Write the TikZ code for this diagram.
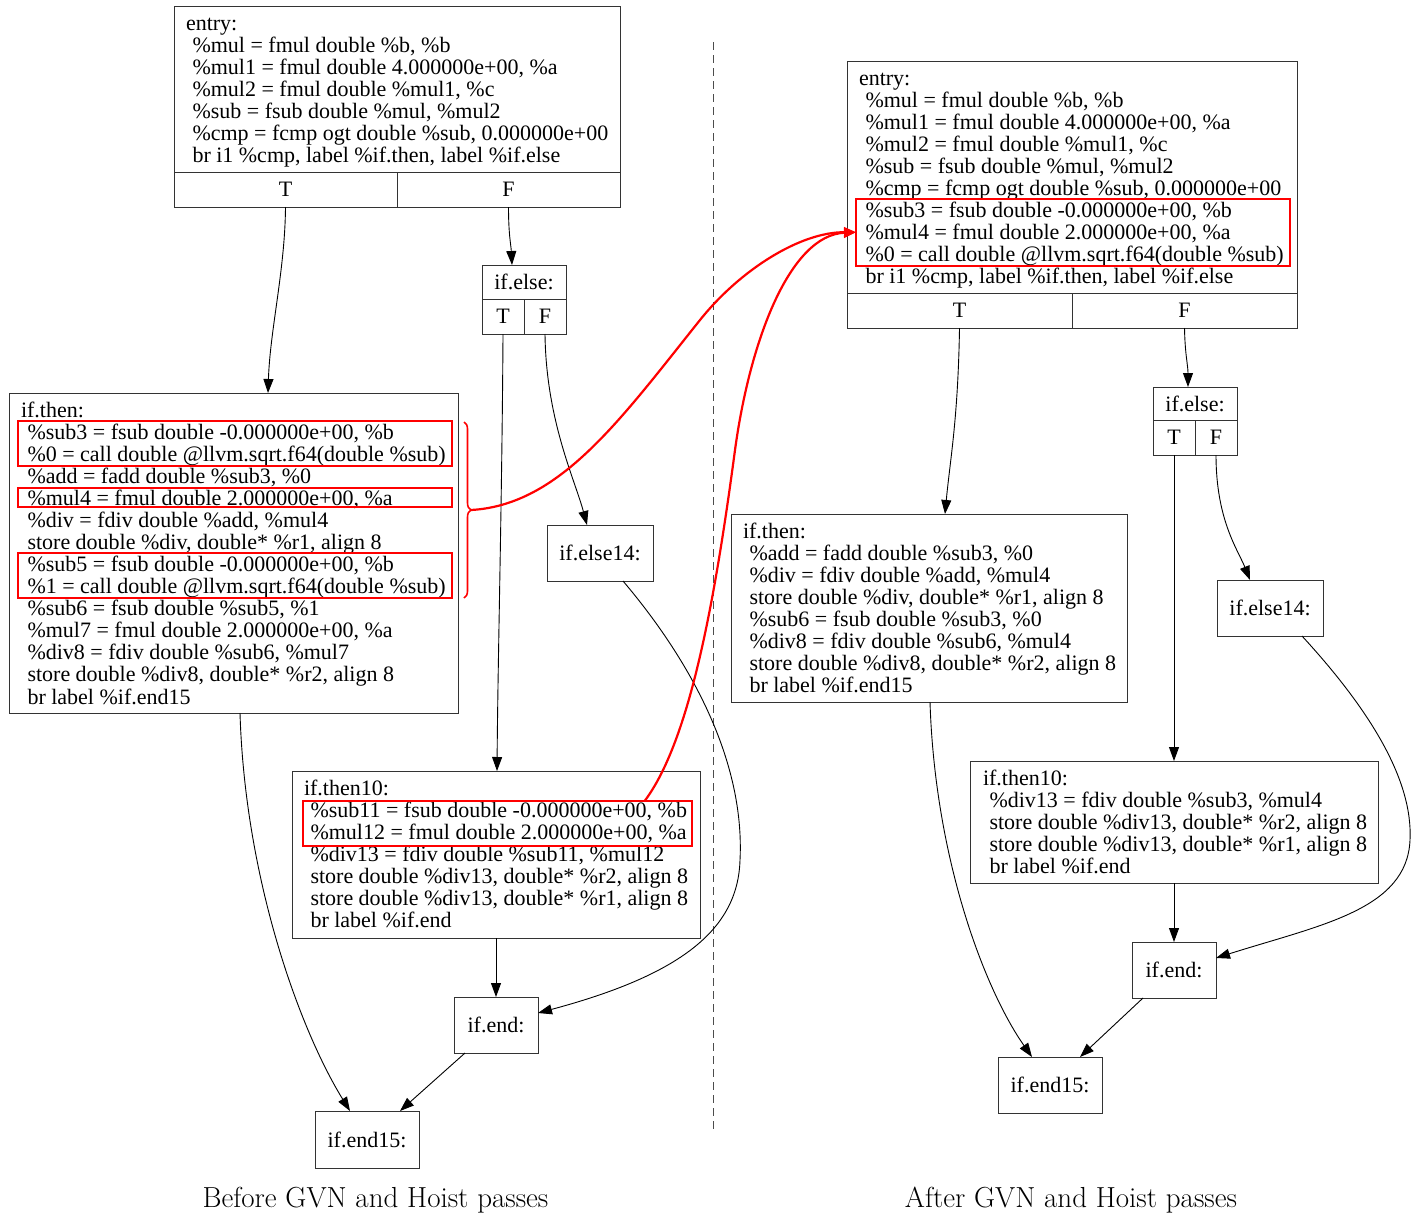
\documentclass[tikz,border=0pt]{standalone}
\usepackage{fontspec}
\newfontfamily\tnr{Liberation Serif}
\usetikzlibrary{arrows.meta,decorations.pathreplacing}
\newcommand\blk[1]{\begin{tabular}[t]{@{}l@{}}#1\end{tabular}}
\newcommand\ii{\hspace*{6.5pt}}
\tikzset{
 box/.style={draw=black!80, line width=1pt, rectangle, inner sep=0pt, outer sep=0pt, font=\tnr\fontsize{22}{22}\selectfont},
 code/.style={anchor=base west, inner sep=0pt, outer sep=0pt, font=\tnr\fontsize{22}{22}\selectfont},
 redbox/.style={draw=red, line width=2pt, rectangle, inner sep=0pt, outer sep=0pt},
 edge/.style={draw=black, line width=0.9pt, -{Triangle[length=14pt,width=10pt]}},
 rededge/.style={draw=red, line width=2.2pt, -{Triangle[length=12pt,width=10pt]}},
 bracestyle/.style={draw=red, line width=1.6pt, decorate, decoration={brace, amplitude=7pt}},
 divider/.style={draw=black!70, line width=1pt, dash pattern=on 8pt off 5pt},
 caption/.style={font=\fontsize{29}{32}\selectfont, anchor=base, inner sep=0pt},
}
\begin{document}
\begin{tikzpicture}[x=1pt,y=-1pt]
\useasboundingbox (0,0) rectangle (1416,1213);
\fill[white] (0,0) rectangle (1416,1213);

% ---------------- LEFT ----------------
\node[box, minimum width=446pt, minimum height=201pt] (entL) at (397,106.5) {};
\node[box, minimum width=223pt, minimum height=35pt] (entLT) at (285.5,189.5) {T};
\node[box, minimum width=223pt, minimum height=35pt] (entLF) at (508.5,189.5) {F};
\node[code] (entLtxt) at (186,30) {\blk{entry:\\
\ii\%mul = fmul double \%b, \%b\\
\ii\%mul1 = fmul double 4.000000e+00, \%a\\
\ii\%mul2 = fmul double \%mul1, \%c\\
\ii\%sub = fsub double \%mul, \%mul2\\
\ii\%cmp = fcmp ogt double \%sub, 0.000000e+00\\
\ii br i1 \%cmp, label \%if.then, label \%if.else}};

\node[box, minimum width=84pt, minimum height=69pt] (elseL) at (524,299.5) {};
\node[box, minimum width=84pt, minimum height=34pt] (elseLH) at (524,282) {if.else:};
\node[box, minimum width=42pt, minimum height=35pt] (elseLT) at (503,316.5) {T};
\node[box, minimum width=42pt, minimum height=35pt] (elseLF) at (545,316.5) {F};

\node[box, minimum width=449pt, minimum height=320pt] (thenL) at (233.5,553) {};
\node[code] (thenLtxt) at (21,417) {\blk{if.then:\\
\ii\%sub3 = fsub double -0.000000e+00, \%b\\
\ii\%0 = call double @llvm.sqrt.f64(double \%sub)\\
\ii\%add = fadd double \%sub3, \%0\\
\ii\%mul4 = fmul double 2.000000e+00, \%a\\
\ii\%div = fdiv double \%add, \%mul4\\
\ii store double \%div, double* \%r1, align 8\\
\ii\%sub5 = fsub double -0.000000e+00, \%b\\
\ii\%1 = call double @llvm.sqrt.f64(double \%sub)\\
\ii\%sub6 = fsub double \%sub5, \%1\\
\ii\%mul7 = fmul double 2.000000e+00, \%a\\
\ii\%div8 = fdiv double \%sub6, \%mul7\\
\ii store double \%div8, double* \%r2, align 8\\
\ii br label \%if.end15}};

\node[box, minimum width=106pt, minimum height=56pt] (else14L) at (600,553) {if.else14:};

\node[box, minimum width=408pt, minimum height=167pt] (then10L) at (496,854.5) {};
\node[code] (then10Ltxt) at (304,795) {\blk{if.then10:\\
\ii\%sub11 = fsub double -0.000000e+00, \%b\\
\ii\%mul12 = fmul double 2.000000e+00, \%a\\
\ii\%div13 = fdiv double \%sub11, \%mul12\\
\ii store double \%div13, double* \%r2, align 8\\
\ii store double \%div13, double* \%r1, align 8\\
\ii br label \%if.end}};

\node[box, minimum width=84pt, minimum height=56pt] (endL) at (496,1025) {if.end:};
\node[box, minimum width=104pt, minimum height=57pt] (end15L) at (367,1139.5) {if.end15:};

% red highlights left
\node[redbox, minimum width=434pt, minimum height=45pt] (rL1) at (234.5,443.5) {};
\node[redbox, minimum width=434pt, minimum height=19pt] (rL2) at (234.5,497.5) {};
\node[redbox, minimum width=434pt, minimum height=45pt] (rL3) at (234.5,575.5) {};
\node[redbox, minimum width=389pt, minimum height=45.5pt] (rT10) at (497.5,823.25) {};

% ---------------- RIGHT ----------------
\node[box, minimum width=450pt, minimum height=267pt] (entR) at (1072,194.5) {};
\node[box, minimum width=225pt, minimum height=35pt] (entRT) at (959.5,310.5) {T};
\node[box, minimum width=225pt, minimum height=35pt] (entRF) at (1184.5,310.5) {F};
\node[code] (entRtxt) at (859,85) {\blk{entry:\\
\ii\%mul = fmul double \%b, \%b\\
\ii\%mul1 = fmul double 4.000000e+00, \%a\\
\ii\%mul2 = fmul double \%mul1, \%c\\
\ii\%sub = fsub double \%mul, \%mul2\\
\ii\%cmp = fcmp ogt double \%sub, 0.000000e+00\\
\ii\%sub3 = fsub double -0.000000e+00, \%b\\
\ii\%mul4 = fmul double 2.000000e+00, \%a\\
\ii\%0 = call double @llvm.sqrt.f64(double \%sub)\\
\ii br i1 \%cmp, label \%if.then, label \%if.else}};
\node[redbox, minimum width=434pt, minimum height=67.5pt] (rR) at (1073,232.25) {};

\node[box, minimum width=84pt, minimum height=68pt] (elseR) at (1195,421) {};
\node[box, minimum width=84pt, minimum height=33pt] (elseRH) at (1195,403.5) {if.else:};
\node[box, minimum width=42pt, minimum height=35pt] (elseRT) at (1174,437.5) {T};
\node[box, minimum width=42pt, minimum height=35pt] (elseRF) at (1216,437.5) {F};

\node[box, minimum width=396pt, minimum height=188pt] (thenR) at (929,608) {};
\node[code] (thenRtxt) at (743,538) {\blk{if.then:\\
\ii\%add = fadd double \%sub3, \%0\\
\ii\%div = fdiv double \%add, \%mul4\\
\ii store double \%div, double* \%r1, align 8\\
\ii\%sub6 = fsub double \%sub3, \%0\\
\ii\%div8 = fdiv double \%sub6, \%mul4\\
\ii store double \%div8, double* \%r2, align 8\\
\ii br label \%if.end15}};

\node[box, minimum width=106pt, minimum height=56pt] (else14R) at (1270,608) {if.else14:};

\node[box, minimum width=408pt, minimum height=122pt] (then10R) at (1174,822) {};
\node[code] (then10Rtxt) at (983,785) {\blk{if.then10:\\
\ii\%div13 = fdiv double \%sub3, \%mul4\\
\ii store double \%div13, double* \%r2, align 8\\
\ii store double \%div13, double* \%r1, align 8\\
\ii br label \%if.end}};

\node[box, minimum width=84pt, minimum height=56pt] (endR) at (1174,970) {if.end:};
\node[box, minimum width=104pt, minimum height=56pt] (end15R) at (1050,1085) {if.end15:};

% ---------------- divider & captions ----------------
\coordinate (dtop) at (713,42);
\coordinate (dbot) at (713,1132);
\draw[divider] (dtop) -- (dbot);
\node[caption] (capL) at (375.5,1207) {Before GVN and Hoist passes};
\node[caption] (capR) at (1071,1207) {After GVN and Hoist passes};

% ---------------- edges left ----------------
\draw[edge] (entLT.south) .. controls (285,270) and (270,330) .. ([xshift=34.5pt]thenL.north);
\draw[edge] (entLF.south) .. controls (508.5,235) and (511,245) .. ([xshift=-12pt]elseL.north);
\draw[edge] (elseLT.south) .. controls (502,500) and (498,650) .. ([xshift=1pt]then10L.north);
\draw[edge] (elseLF.south) .. controls (546,420) and (575,480) .. ([xshift=-13pt]else14L.north);
\draw[edge] ([xshift=23pt]else14L.south) .. controls (690,660) and (745,760) .. (740,860)
   .. controls (738,930) and (680,975) .. ([yshift=12pt]endL.east);
\draw[edge] ([xshift=6.5pt]thenL.south) .. controls (245,880) and (300,1030) .. ([xshift=-17pt]end15L.north);
\draw[edge] (then10L.south) -- (endL.north);
\draw[edge] ([xshift=-31pt]endL.south) -- ([xshift=33pt]end15L.north);

% ---------------- edges right ----------------
\draw[edge] (entRT.south) .. controls (958,420) and (950,460) .. ([xshift=16pt]thenR.north);
\draw[edge] (entRF.south) .. controls (1185,355) and (1188,365) .. ([xshift=-7pt]elseR.north);
\draw[edge] (elseRT.south) -- (then10R.north);
\draw[edge] (elseRF.south) .. controls (1216,520) and (1238,550) .. ([xshift=-20pt]else14R.north);
\draw[edge] ([xshift=32pt]else14R.south) .. controls (1370,710) and (1413,780) .. (1410,840)
   .. controls (1407,910) and (1320,925) .. ([yshift=12pt]endR.east);
\draw[edge] ([xshift=1pt]thenR.south) .. controls (935,860) and (985,990) .. ([xshift=-18pt]end15R.north);
\draw[edge] (then10R.south) -- (endR.north);
\draw[edge] ([xshift=-31pt]endR.south) -- ([xshift=30pt]end15R.north);

% ---------------- red connectors ----------------
\coordinate (brT) at (464,422);
\coordinate (brB) at (464,598);
\coordinate (brTip) at (471,510);
\draw[bracestyle] (brT) -- (brB);
\draw[rededge] (brTip) .. controls (560,505) and (620,420) .. (700,320)
   .. controls (740,270) and (800,232) .. (rR.west);
\draw[rededge] ([xshift=147.5pt]rT10.north) .. controls (690,740) and (715,600) .. (735,450)
   .. controls (750,340) and (790,235) .. (rR.west);
\end{tikzpicture}
\end{document}
